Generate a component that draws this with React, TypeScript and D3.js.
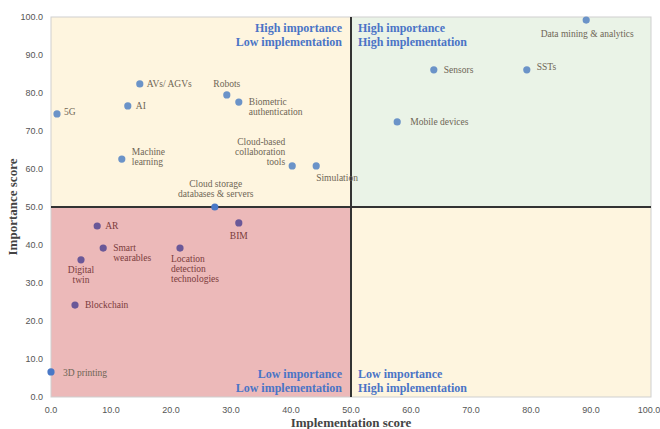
import React from "react";
import * as d3 from "d3";

const technologies = [
  "5G", "AI", "AVs/ AGVs", "Robots", "Biometric\nauthentication", "Machine\nlearning",
  "Cloud-based\ncollaboration\ntools", "Simulation", "Cloud storage\ndatabases & servers",
  "AR", "BIM", "Smart\nwearables", "Location\ndetection\ntechnologies", "Digital\ntwin",
  "Blockchain", "3D printing", "Data mining & analytics", "Sensors", "SSTs", "Mobile devices",
];
const implementation = [1.0, 12.8, 14.8, 29.3, 31.3, 11.8, 40.2, 44.2, 27.3, 7.7, 31.3, 8.7, 21.5, 5.0, 4.0, 0.0, 89.2, 63.8, 79.3, 57.7];
const importance = [74.5, 76.6, 82.4, 79.5, 77.6, 62.6, 60.8, 60.8, 50.0, 45.0, 45.8, 39.2, 39.2, 36.1, 24.2, 6.6, 99.2, 86.1, 86.1, 72.4];
const groups = ["top", "top", "top", "top", "top", "top", "top", "top", "edge", "low", "low", "low", "low", "low", "low", "edge", "top", "top", "top", "top"];

const xTicks = [0, 10, 20, 30, 40, 50, 60, 70, 80, 90, 100];
const yTicks = [0, 10, 20, 30, 40, 50, 60, 70, 80, 90, 100];
const quadrantTitles = [
  { lines: ["High importance", "Low implementation"], q: "tl" },
  { lines: ["High importance", "High implementation"], q: "tr" },
  { lines: ["Low importance", "Low implementation"], q: "bl" },
  { lines: ["Low importance", "High implementation"], q: "br" },
];

// label placement (pixel offsets from the point), presentation only
const placement: [number, number, string][] = [
  [7, 1, "start"], [8, 3, "start"], [7, 3, "start"], [0, -8, "middle"], [10, 3, "start"],
  [10, -4, "start"], [-7, -21, "end"], [0, 15, "start"], [1, -20, "middle"],
  [8, 3, "start"], [0, 16, "middle"], [10, 3, "start"], [-9, 14, "start"], [0, 13, "middle"],
  [10, 3, "start"], [12, 4, "start"], [1, 17, "middle"], [10, 3, "start"], [10, 0, "start"], [13, 3, "start"],
];

const W = 660, H = 429;
const x = d3.scaleLinear().domain([0, 100]).range([51, 651]);
const y = d3.scaleLinear().domain([0, 100]).range([397, 17]);

const pointColor: Record<string, string> = { top: "#6b93c8", low: "#6a5898", edge: "#4a78c6" };
const labelColor: Record<string, string> = { top: "#6e6555", low: "#7b3c3c", edge: "#6e6555" };

export default function App() {
  const serif = "'Liberation Serif', 'DejaVu Serif', serif";
  const sans = "'Liberation Sans', Arial, sans-serif";
  const x0 = x(0), x50 = x(50), x100 = x(100), y0 = y(0), y50 = y(50), y100 = y(100);
  return (
    <svg width={W} height={H} style={{ position: "absolute", left: 0, top: 0, background: "#fff" }}>
      <rect x={x0} y={y100} width={x50 - x0} height={y50 - y100} fill="#fef5df" />
      <rect x={x50} y={y100} width={x100 - x50} height={y50 - y100} fill="#eaf3e7" />
      <rect x={x0} y={y50} width={x50 - x0} height={y0 - y50} fill="#ecb9b9" />
      <rect x={x50} y={y50} width={x100 - x50} height={y0 - y50} fill="#fef5df" />
      <rect x={x0} y={y100} width={x100 - x0} height={y0 - y100} fill="none" stroke="#cfcfcf" strokeWidth={1} />
      <line x1={x0} x2={x100} y1={y50} y2={y50} stroke="#333" strokeWidth={2} />
      <line x1={x50} x2={x50} y1={y100} y2={y0} stroke="#333" strokeWidth={2} />

      {yTicks.map((t) => (
        <text key={"y" + t} x={43} y={y(t) + 3} textAnchor="end" fontFamily={sans} fontSize={9} fill="#555">
          {t.toFixed(1)}
        </text>
      ))}
      {xTicks.map((t) => (
        <text key={"x" + t} x={Math.min(x(t), W - 11)} y={413} textAnchor="middle" fontFamily={sans} fontSize={9} fill="#555">
          {t.toFixed(1)}
        </text>
      ))}
      <text x={(x0 + x100) / 2} y={427} textAnchor="middle" fontFamily={serif} fontSize={13} fontWeight={600} fill="#444">
        Implementation score
      </text>
      <text transform={`translate(17,${(y0 + y100) / 2}) rotate(-90)`} textAnchor="middle" fontFamily={serif} fontSize={13} fontWeight={600} fill="#444">
        Importance score
      </text>

      {quadrantTitles.map((qt) => {
        const left = qt.q === "tl" || qt.q === "bl";
        const top = qt.q === "tl" || qt.q === "tr";
        const tx = left ? x50 - 9 : x50 + 7;
        const ty = top ? y100 + 15 : y0 - 19;
        return (
          <text key={qt.q} x={tx} y={ty} textAnchor={left ? "end" : "start"} fontFamily={serif} fontSize={12} fontWeight="bold" fill="#4a74c6">
            {qt.lines.map((l, i) => (
              <tspan key={i} x={tx} dy={i === 0 ? 0 : 14}>{l}</tspan>
            ))}
          </text>
        );
      })}

      {technologies.map((name, i) => {
        const px = x(implementation[i]);
        const py = y(importance[i]);
        const [dx, dy, anchor] = placement[i];
        const lines = name.split("\n");
        return (
          <g key={name}>
            <circle cx={px} cy={py} r={3.6} fill={pointColor[groups[i]]} />
            <text x={px + dx} y={py + dy} textAnchor={anchor} fontFamily={serif} fontSize={9.5} fill={labelColor[groups[i]]}>
              {lines.map((l, j) => (
                <tspan key={j} x={px + dx} dy={j === 0 ? 0 : 10}>{l}</tspan>
              ))}
            </text>
          </g>
        );
      })}
    </svg>
  );
}
